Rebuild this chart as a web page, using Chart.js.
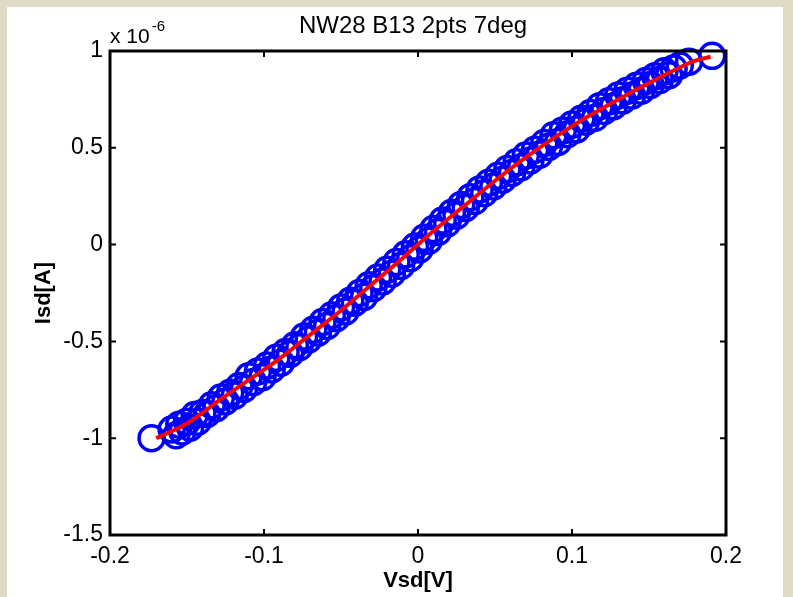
<!DOCTYPE html>
<html>
<head>
<meta charset="utf-8">
<script src="https://cdn.jsdelivr.net/npm/chart.js@4.4.0/dist/chart.umd.min.js"></script>
<style>
html, body { margin: 0; padding: 0; background: #e0dbc5; }
canvas { display: block; }
</style>
</head>
<body>
<canvas id="myChart" width="793" height="597"></canvas>
<script>
// measured points (Isd in units of 1e-6 A)
var vsd = [-0.173, -0.160, -0.157, -0.155, -0.153, -0.150, -0.148, -0.145, -0.143, -0.140,
  -0.137, -0.134, -0.131, -0.128, -0.125, -0.122, -0.119, -0.116, -0.113, -0.110,
  -0.107, -0.104, -0.101, -0.098, -0.095, -0.092, -0.089, -0.086, -0.083, -0.080,
  -0.077, -0.074, -0.071, -0.068, -0.065, -0.062, -0.059, -0.056, -0.053, -0.050,
  -0.047, -0.044, -0.041, -0.038, -0.035, -0.032, -0.029, -0.026, -0.023, -0.020,
  -0.017, -0.014, -0.011, -0.008, -0.005, -0.002, 0.001, 0.004, 0.007, 0.010,
  0.013, 0.016, 0.019, 0.022, 0.025, 0.028, 0.031, 0.034, 0.037, 0.040,
  0.043, 0.046, 0.049, 0.052, 0.055, 0.058, 0.061, 0.064, 0.067, 0.070,
  0.073, 0.076, 0.079, 0.082, 0.085, 0.088, 0.091, 0.094, 0.097, 0.100,
  0.103, 0.106, 0.109, 0.112, 0.115, 0.118, 0.121, 0.124, 0.127, 0.130,
  0.133, 0.136, 0.139, 0.142, 0.145, 0.148, 0.151, 0.154, 0.157, 0.160,
  0.163, 0.166, 0.170, 0.176, 0.191];
var isd = [-1.00, -0.955, -0.985, -0.93, -0.965, -0.915, -0.945, -0.88, -0.915, -0.87,
  -0.875, -0.83, -0.845, -0.79, -0.81, -0.765, -0.78, -0.73, -0.745, -0.68,
  -0.71, -0.655, -0.685, -0.625, -0.645, -0.585, -0.61, -0.555, -0.565, -0.52,
  -0.53, -0.475, -0.49, -0.44, -0.455, -0.40, -0.42, -0.365, -0.38, -0.325,
  -0.345, -0.29, -0.30, -0.25, -0.27, -0.21, -0.225, -0.17, -0.19, -0.13,
  -0.15, -0.09, -0.11, -0.05, -0.07, -0.01, -0.025, 0.035, 0.02, 0.08,
  0.065, 0.125, 0.11, 0.165, 0.15, 0.205, 0.19, 0.245, 0.225, 0.285,
  0.265, 0.32, 0.30, 0.355, 0.335, 0.39, 0.37, 0.425, 0.40, 0.46,
  0.435, 0.49, 0.465, 0.525, 0.505, 0.565, 0.53, 0.59, 0.57, 0.62,
  0.595, 0.65, 0.635, 0.68, 0.655, 0.715, 0.69, 0.74, 0.715, 0.77,
  0.745, 0.795, 0.77, 0.82, 0.795, 0.845, 0.825, 0.87, 0.85, 0.895,
  0.875, 0.91, 0.925, 0.945, 0.975];

// fitted curve
var fitV = [-0.17, -0.15, -0.13, -0.11, -0.09, -0.07, -0.05, -0.03, -0.01, 0.01,
  0.03, 0.05, 0.07, 0.09, 0.11, 0.13, 0.15, 0.17, 0.18, 0.19];
var fitI = [-1.00, -0.924, -0.81, -0.70, -0.59, -0.465, -0.34, -0.205, -0.07, 0.07,
  0.20, 0.33, 0.45, 0.56, 0.66, 0.75, 0.835, 0.915, 0.95, 0.97];

var xTicks = [-0.2, -0.1, 0, 0.1, 0.2];
var yTicks = [-1.5, -1, -0.5, 0, 0.5, 1];

var FONT = '"Liberation Sans", Arial, Helvetica, sans-serif';

function pts(xs, ys) {
  return xs.map(function (x, i) { return { x: x, y: ys[i] }; });
}

var matlabFrame = {
  id: 'matlabFrame',
  beforeDraw: function (chart) {
    var ctx = chart.ctx;
    ctx.save();
    ctx.fillStyle = '#e0dbc5';
    ctx.fillRect(0, 0, chart.width, chart.height);
    ctx.fillStyle = '#ffffff';
    ctx.fillRect(7, 7, 776, 590);
    ctx.restore();
  },
  afterDraw: function (chart) {
    var ctx = chart.ctx;
    var a = chart.chartArea;
    var xs = chart.scales.x, ys = chart.scales.y;
    ctx.save();
    ctx.strokeStyle = '#000';
    ctx.lineWidth = 3;
    ctx.strokeRect(a.left, a.top, a.right - a.left, a.bottom - a.top);
    ctx.lineWidth = 2;
    ctx.beginPath();
    xTicks.forEach(function (v) {
      var px = xs.getPixelForValue(v);
      ctx.moveTo(px, a.bottom); ctx.lineTo(px, a.bottom - 6);
      ctx.moveTo(px, a.top); ctx.lineTo(px, a.top + 6);
    });
    yTicks.forEach(function (v) {
      var py = ys.getPixelForValue(v);
      ctx.moveTo(a.left, py); ctx.lineTo(a.left + 6, py);
      ctx.moveTo(a.right, py); ctx.lineTo(a.right - 6, py);
    });
    ctx.stroke();

    ctx.fillStyle = '#000';
    ctx.textBaseline = 'alphabetic';
    ctx.textAlign = 'center';
    ctx.font = '24px ' + FONT;
    ctx.fillText('NW28 B13 2pts 7deg', 413, 33);

    ctx.textAlign = 'left';
    ctx.font = '21px ' + FONT;
    ctx.fillText('x 10', 110, 43);
    var w = ctx.measureText('x 10').width;
    ctx.font = '15px ' + FONT;
    ctx.fillText('-6', 110 + w + 2, 31);
    ctx.restore();
  }
};

var data = {
  datasets: [{
    label: 'fit',
    type: 'line',
    data: pts(fitV, fitI),
    borderColor: '#ff0000',
    borderWidth: 4,
    pointRadius: 0,
    cubicInterpolationMode: 'monotone',
    fill: false,
    clip: false,
    order: 0
  }, {
    label: 'data',
    type: 'scatter',
    data: pts(vsd, isd),
    borderColor: '#0000ff',
    backgroundColor: 'rgba(0,0,0,0)',
    borderWidth: 3.5,
    pointRadius: 12.5,
    pointHoverRadius: 12.5,
    clip: false,
    order: 1
  }]
};

var config = {
  type: 'scatter',
  data: data,
  options: {
    responsive: false,
    animation: false,
    devicePixelRatio: 1,
    layout: { padding: { left: 0, right: 67, top: 51, bottom: 0 } },
    plugins: {
      legend: { display: false },
      tooltip: { enabled: false },
      title: { display: false }
    },
    scales: {
      x: {
        type: 'linear',
        min: -0.2,
        max: 0.2,
        afterBuildTicks: function (scale) {
          scale.ticks = xTicks.map(function (v) { return { value: v }; });
        },
        afterFit: function (scale) { scale.height = 62; },
        grid: { display: false, drawTicks: false },
        border: { display: false },
        ticks: {
          color: '#000',
          padding: 8,
          maxRotation: 0,
          font: { family: FONT, size: 23 },
          callback: function (v) { return String(Number(v.toFixed(1))); }
        },
        title: {
          display: true,
          text: 'Vsd[V]',
          color: '#000',
          font: { family: FONT, size: 22, weight: 'bold' },
          padding: { top: 0, bottom: 3 }
        }
      },
      y: {
        type: 'linear',
        min: -1.5,
        max: 1,
        afterBuildTicks: function (scale) {
          scale.ticks = yTicks.map(function (v) { return { value: v }; });
        },
        afterFit: function (scale) { scale.width = 110; },
        grid: { display: false, drawTicks: false },
        border: { display: false },
        ticks: {
          color: '#000',
          padding: 7,
          font: { family: FONT, size: 23 },
          callback: function (v) { return String(Number(v.toFixed(1))); }
        },
        title: {
          display: true,
          text: 'Isd[A]',
          color: '#000',
          font: { family: FONT, size: 22, weight: 'bold' },
          padding: { top: 31, bottom: 0 }
        }
      }
    }
  },
  plugins: [matlabFrame]
};

var myChart = new Chart(document.getElementById('myChart'), config);
</script>
</body>
</html>
